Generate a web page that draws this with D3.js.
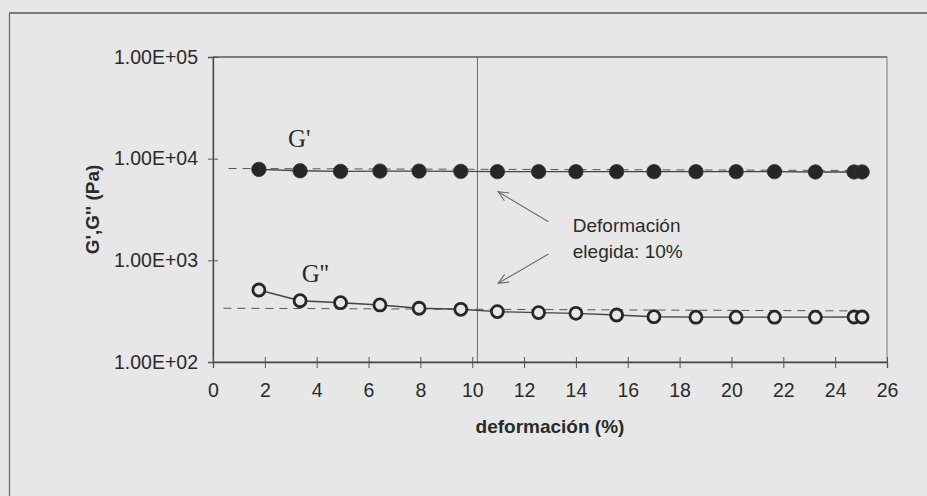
<!DOCTYPE html>
<html>
<head>
<meta charset="utf-8">
<script src="https://cdn.jsdelivr.net/npm/d3@7"></script>
<style>
html,body{margin:0;padding:0;background:#e7e7e7;}
svg{display:block;}
</style>
</head>
<body>
<svg id="chart" width="927" height="496"></svg>
<script>
// ---- data ----
const deformacion = [1.77, 3.36, 4.92, 6.44, 7.95, 9.56, 10.97, 12.56, 14.0, 15.57, 17.01, 18.63, 20.18, 21.66, 23.24, 24.73, 25.04];
const Gprima = [7850, 7600, 7500, 7550, 7550, 7500, 7450, 7450, 7450, 7450, 7450, 7450, 7450, 7450, 7400, 7400, 7400];
const Gbiprima = [511, 401, 383, 364, 338, 330, 313, 306, 301, 290, 279, 276, 276, 276, 276, 277, 277];
const trendGprimaX = [0.6, 25.0];
const trendGprimaY = [8000, 7650];
const trendGbiprimaX = [0.4, 25.0];
const trendGbiprimaY = [338, 318];
const deformacionElegida = 10.2;
const xTicks = [0, 2, 4, 6, 8, 10, 12, 14, 16, 18, 20, 22, 24, 26];
const yTicks = [1e2, 1e3, 1e4, 1e5];
const xTitle = "deformación (%)";
const yTitle = "G',G'' (Pa)";
const labelGprima = "G'";
const labelGbiprima = "G''";
const annotLines = ["Deformación", "elegida: 10%"];
// annotation anchors in data units
const annotTextPos = [13.88, 1914];
const arrowUpper = [[12.94, 2400], [11.0, 4730]];
const arrowLower = [[12.94, 1154], [11.0, 594]];
const labelGprimaPos = [2.89, 13120];
const labelGbiprimaPos = [3.42, 617];

// ---- chart ----
const svg = d3.select("#chart");
const ink = "#2a2a2a";
const sans = "'Liberation Sans', Arial, sans-serif";
const serif = "'Liberation Serif', 'Times New Roman', serif";

// scan frame
svg.append("line").attr("x1", 9).attr("x2", 927).attr("y1", 13).attr("y2", 13)
  .attr("stroke", "#555").attr("stroke-width", 1.5);
svg.append("line").attr("x1", 9.5).attr("x2", 9.5).attr("y1", 13).attr("y2", 496)
  .attr("stroke", "#666").attr("stroke-width", 1.2);

const x = d3.scaleLinear().domain([0, 26]).range([213, 887]);
const y = d3.scaleLog().domain([1e2, 1e5]).range([362, 57]);

// plot area box
svg.append("rect").attr("x", x(0)).attr("y", y(1e5))
  .attr("width", x(26) - x(0)).attr("height", y(1e2) - y(1e5))
  .attr("fill", "none").attr("stroke", "#7a7a7a").attr("stroke-width", 1);
svg.append("line").attr("x1", x(0)).attr("x2", x(26)).attr("y1", y(1e5)).attr("y2", y(1e5))
  .attr("stroke", "#4a4a4a").attr("stroke-width", 1.2);

// vertical line at chosen deformation
svg.append("line").attr("x1", x(deformacionElegida)).attr("x2", x(deformacionElegida))
  .attr("y1", y(1e5)).attr("y2", y(1e2)).attr("stroke", "#6a6a6a").attr("stroke-width", 1);

// axes
const fmt = v => "1.00E+" + String(Math.round(Math.log10(v))).padStart(2, "0");
const yAxis = svg.append("g").attr("transform", `translate(${x(0)},0)`)
  .call(d3.axisLeft(y).tickValues(yTicks).tickFormat(fmt).tickSize(5).tickPadding(10));
yAxis.selectAll(".tick line").attr("x1", 5).attr("x2", -5);
const xAxis = svg.append("g").attr("transform", `translate(0,${y(1e2)})`)
  .call(d3.axisBottom(x).tickValues(xTicks).tickFormat(d3.format("d")).tickSize(6).tickPadding(15));
xAxis.selectAll(".tick line").attr("y1", -5).attr("y2", 6);
[yAxis, xAxis].forEach(g => {
  g.select(".domain").attr("stroke", "#444").attr("stroke-width", 1.3);
  g.selectAll(".tick line").attr("stroke", "#555").attr("stroke-width", 1);
  g.selectAll(".tick text").attr("fill", ink).style("font-family", sans).style("font-size", "19.5px");
});

// axis titles
svg.append("text").attr("x", (x(0) + x(26)) / 2).attr("y", 433)
  .attr("text-anchor", "middle").attr("fill", ink)
  .style("font-family", sans).style("font-weight", "bold").style("font-size", "19px")
  .text(xTitle);
svg.append("text").attr("transform", `translate(99,${(y(1e5) + y(1e2)) / 2}) rotate(-90)`)
  .attr("text-anchor", "middle").attr("fill", ink)
  .style("font-family", sans).style("font-weight", "bold").style("font-size", "19px")
  .text(yTitle);

// trend (dashed) lines
const line = d3.line().x(d => x(d[0])).y(d => y(d[1]));
svg.append("path").datum(d3.zip(trendGprimaX, trendGprimaY)).attr("d", line)
  .attr("fill", "none").attr("stroke", "#555").attr("stroke-width", 1).attr("stroke-dasharray", "8,6");
svg.append("path").datum(d3.zip(trendGbiprimaX, trendGbiprimaY)).attr("d", line)
  .attr("fill", "none").attr("stroke", "#555").attr("stroke-width", 1).attr("stroke-dasharray", "8,6");

// series lines
svg.append("path").datum(d3.zip(deformacion, Gprima)).attr("d", line)
  .attr("fill", "none").attr("stroke", "#444").attr("stroke-width", 1.4);
svg.append("path").datum(d3.zip(deformacion, Gbiprima)).attr("d", line)
  .attr("fill", "none").attr("stroke", "#444").attr("stroke-width", 1.4);

// markers
svg.append("g").selectAll("circle").data(d3.zip(deformacion, Gprima)).join("circle")
  .attr("cx", d => x(d[0])).attr("cy", d => y(d[1])).attr("r", 7.2)
  .attr("fill", "#262626").attr("stroke", "#333").attr("stroke-width", 0.8);
svg.append("g").selectAll("circle").data(d3.zip(deformacion, Gbiprima)).join("circle")
  .attr("cx", d => x(d[0])).attr("cy", d => y(d[1])).attr("r", 6)
  .attr("fill", "#e7e7e7").attr("stroke", "#262626").attr("stroke-width", 2.8);

// series labels
svg.append("text").attr("x", x(labelGprimaPos[0])).attr("y", y(labelGprimaPos[1]))
  .attr("fill", ink).style("font-family", serif).style("font-size", "25px").text(labelGprima);
svg.append("text").attr("x", x(labelGbiprimaPos[0])).attr("y", y(labelGbiprimaPos[1]))
  .attr("fill", ink).style("font-family", serif).style("font-size", "25px").text(labelGbiprima);

// annotation
const at = svg.append("text").attr("fill", ink).style("font-family", sans).style("font-size", "19px");
annotLines.forEach((t, i) => {
  at.append("tspan").attr("x", x(annotTextPos[0])).attr("y", y(annotTextPos[1]) + i * 26.6).text(t);
});
function arrow(a) {
  const [p0, p1] = a;
  const x0 = x(p0[0]), y0 = y(p0[1]), x1 = x(p1[0]), y1 = y(p1[1]);
  const ang = Math.atan2(y1 - y0, x1 - x0);
  const L = 11, w = 0.42;
  const g = svg.append("g").attr("stroke", "#6a6a6a").attr("stroke-width", 1.1).attr("fill", "none");
  g.append("line").attr("x1", x0).attr("y1", y0).attr("x2", x1).attr("y2", y1);
  g.append("path").attr("d",
    `M${x1 - L * Math.cos(ang - w)},${y1 - L * Math.sin(ang - w)}L${x1},${y1}L${x1 - L * Math.cos(ang + w)},${y1 - L * Math.sin(ang + w)}`);
}
arrow(arrowUpper);
arrow(arrowLower);
</script>
</body>
</html>
